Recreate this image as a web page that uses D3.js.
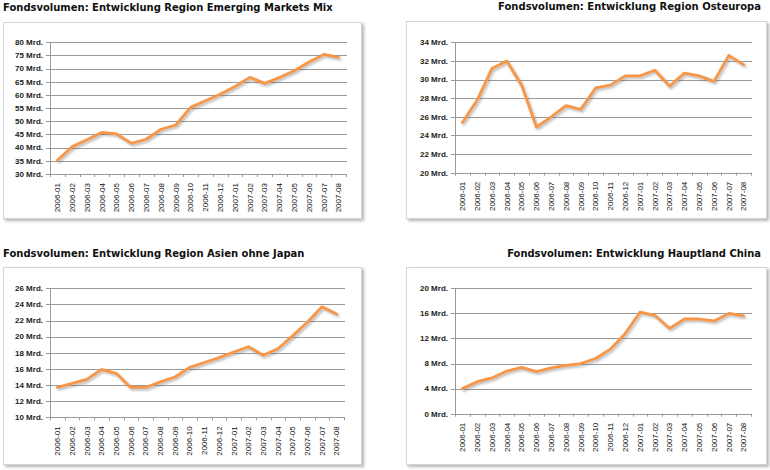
<!DOCTYPE html>
<html><head><meta charset="utf-8">
<script src="https://cdn.jsdelivr.net/npm/d3@7"></script>
<style>body{margin:0;background:#fff} svg{display:block}</style>
</head><body><svg id="c" width="770" height="470"></svg>
<script>
const months = ["2006-01","2006-02","2006-03","2006-04","2006-05","2006-06","2006-07","2006-08","2006-09","2006-10","2006-11","2006-12","2007-01","2007-02","2007-03","2007-04","2007-05","2007-06","2007-07","2007-08"];
const emergingMix = [35.2,40.4,43.0,45.8,45.2,41.6,43.2,47.0,48.6,55.3,57.8,60.3,63.2,66.7,64.4,66.6,69.2,72.5,75.4,74.3];
const osteuropa = [25.4,27.8,31.2,32.0,29.4,24.9,26.0,27.2,26.8,29.1,29.4,30.4,30.4,31.0,29.3,30.7,30.4,29.8,32.6,31.6];
const asienOhneJapan = [13.7,14.2,14.7,15.95,15.45,13.7,13.7,14.4,15.0,16.2,16.8,17.4,18.1,18.75,17.7,18.5,20.1,21.8,23.7,22.8];
const hauptlandChina = [4.0,5.1,5.7,6.8,7.4,6.7,7.3,7.7,8.0,8.8,10.3,12.8,16.2,15.7,13.6,15.1,15.1,14.8,16.0,15.6];
const ticksEmergingMix = [30,35,40,45,50,55,60,65,70,75,80];
const ticksOsteuropa = [20,22,24,26,28,30,32,34];
const ticksAsien = [10,12,14,16,18,20,22,24,26];
const ticksChina = [0,4,8,12,16,20];
const titles = [
  "Fondsvolumen: Entwicklung Region Emerging Markets Mix",
  "Fondsvolumen: Entwicklung Region Osteuropa",
  "Fondsvolumen: Entwicklung Region Asien ohne Japan",
  "Fondsvolumen: Entwicklung Hauptland China"
];
const unitSuffix = " Mrd.";

const panels = [
  {title:titles[0], values:emergingMix, ticks:ticksEmergingMix, box:[3,22,361,218], plot:[50,346,42.3,174], tx:3, ty:10.8, anchor:"start", tw:330},
  {title:titles[1], values:osteuropa, ticks:ticksOsteuropa, box:[406,21,766,218], plot:[455,751,42.3,172.7], tx:761, ty:10.3, anchor:"end", tw:263},
  {title:titles[2], values:asienOhneJapan, ticks:ticksAsien, box:[3,267,361,464], plot:[50,344,288.3,417.3], tx:3, ty:256.5, anchor:"start", tw:302},
  {title:titles[3], values:hauptlandChina, ticks:ticksChina, box:[406,267,766,464], plot:[455,751,288.3,413.7], tx:761, ty:256.8, anchor:"end", tw:254}
];

const svg = d3.select("#c");
const defs = svg.append("defs");
const bs = defs.append("filter").attr("id","boxShadow").attr("x","-5%").attr("y","-5%").attr("width","115%").attr("height","115%");
bs.append("feDropShadow").attr("dx",2).attr("dy",2).attr("stdDeviation",1.5).attr("flood-color","#777").attr("flood-opacity",0.55);
const ls = defs.append("filter").attr("id","lineShadow").attr("x","-5%").attr("y","-10%").attr("width","115%").attr("height","130%");
ls.append("feDropShadow").attr("dx",1.5).attr("dy",1.8).attr("stdDeviation",1).attr("flood-color","#666").attr("flood-opacity",0.45);

panels.forEach(p => {
  const g = svg.append("g");
  const [bx0,by0,bx1,by1] = p.box;
  g.append("rect").attr("x",bx0+0.5).attr("y",by0+0.5).attr("width",bx1-bx0).attr("height",by1-by0)
    .attr("fill","#fff").attr("stroke","#d4d4d4").attr("stroke-width",1).attr("filter","url(#boxShadow)");

  const t = g.append("text").attr("x",p.tx).attr("y",p.ty).attr("text-anchor",p.anchor)
    .attr("font-family","'DejaVu Sans', sans-serif").attr("font-weight","bold").attr("font-size",10)
    .attr("fill","#111").text(p.title);
  const nat = t.node().getComputedTextLength();
  t.attr("font-size", 10 * p.tw / nat);

  const [px0,px1,pyT,pyB] = p.plot;
  const x = d3.scaleBand().domain(months).range([px0,px1]).padding(0);
  const y = d3.scaleLinear().domain([d3.min(p.ticks), d3.max(p.ticks)]).range([pyB,pyT]);
  const gridRight = px1 + 1;

  g.selectAll(".grid").data(p.ticks).join("line")
    .attr("x1",px0).attr("x2",gridRight)
    .attr("y1",d=>Math.round(y(d))+0.5).attr("y2",d=>Math.round(y(d))+0.5)
    .attr("stroke","#9a9a9a").attr("stroke-width",1);
  g.selectAll(".ytick").data(p.ticks).join("line")
    .attr("x1",px0-4).attr("x2",px0)
    .attr("y1",d=>Math.round(y(d))+0.5).attr("y2",d=>Math.round(y(d))+0.5)
    .attr("stroke","#9a9a9a");
  g.append("line").attr("x1",Math.round(px0)+0.5).attr("x2",Math.round(px0)+0.5).attr("y1",y.range()[1]).attr("y2",y.range()[0])
    .attr("stroke","#9a9a9a");
  g.selectAll(".ylab").data(p.ticks).join("text")
    .attr("x",px0-7).attr("y",d=>y(d)).attr("dy","0.35em").attr("text-anchor","end")
    .attr("font-family","'Liberation Sans', Arial, sans-serif").attr("font-size",8).attr("font-weight","bold")
    .attr("fill","#222").text(d=>d+unitSuffix);

  const bounds = months.map(m=>x(m)).concat([px1]);
  g.selectAll(".xtick").data(bounds).join("line")
    .attr("x1",d=>Math.round(d)+0.5).attr("x2",d=>Math.round(d)+0.5)
    .attr("y1",pyB).attr("y2",pyB+3).attr("stroke","#9a9a9a");
  g.selectAll(".xlab").data(months).join("text")
    .attr("transform",d=>`translate(${x(d)+x.bandwidth()/2},${pyB+9}) rotate(-90)`)
    .attr("text-anchor","end").attr("dy","0.35em")
    .attr("font-family","'Liberation Sans', Arial, sans-serif").attr("font-size",8)
    .attr("fill","#111").text(d=>d);

  const line = d3.line().x((d,i)=>x(months[i])+x.bandwidth()/2).y(d=>y(d));
  g.append("path").datum(p.values).attr("d",line).attr("fill","none")
    .attr("stroke","#F79646").attr("stroke-width",2.8).attr("stroke-linejoin","round").attr("stroke-linecap","round")
    .attr("filter","url(#lineShadow)");
});
</script></body></html>
